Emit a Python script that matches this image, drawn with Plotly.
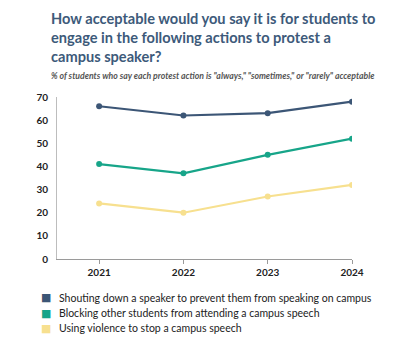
import plotly.graph_objects as go

years = [2021, 2022, 2023, 2024]
series_names = [
    "Shouting down a speaker to prevent them from speaking on campus",
    "Blocking other students from attending a campus speech",
    "Using violence to stop a campus speech",
]
shouting = [66, 62, 63, 68]
blocking = [41, 37, 45, 52]
violence = [24, 20, 27, 32]
colors = ["#3c5676", "#17a589", "#f7e08f"]
y_ticks = [0, 10, 20, 30, 40, 50, 60, 70]

# page body adds an 8px offset; positions below are target pixel positions minus 8
OFF = 8
W, H = 417, 360
ML, MT = 57 - OFF, 97 - OFF
PR, PB = 352 - OFF, 259 - OFF
MR, MB = W - PR, H - PB
PW, PH = PR - ML, PB - MT


def px_x(x):
    return (x - OFF - ML) / PW


def px_y(y):
    return (PB - (y - OFF)) / PH


fig = go.Figure()
for name, vals, col in zip(series_names, [shouting, blocking, violence], colors):
    fig.add_trace(go.Scatter(x=years, y=vals, mode="lines+markers", name=name,
                             line=dict(color=col, width=2.2),
                             marker=dict(color=col, size=6),
                             showlegend=False))

annotations = [
    dict(text="<b>How acceptable would you say it is for students to<br>engage in the following actions to protest a<br>campus speaker?</b>",
         xref="paper", yref="paper", x=px_x(49), y=px_y(8), xanchor="left", yanchor="top",
         align="left", showarrow=False,
         font=dict(size=14.6, family="Lato", color="#3d5a7a")),
    dict(text="<b><i>% of students who say each protest action is \"always,\" \"sometimes,\" or \"rarely\" acceptable</i></b>",
         xref="paper", yref="paper", x=px_x(49), y=px_y(75), xanchor="left", yanchor="middle",
         align="left", showarrow=False,
         font=dict(size=8.7, family="Lato", color="#555")),
]
legend_rows = [297.5, 313, 328]
for name, col, py in zip(series_names, colors, legend_rows):
    annotations.append(dict(text="■", xref="paper", yref="paper", x=px_x(45.5), y=px_y(py),
                            xanchor="center", yanchor="middle", showarrow=False,
                            font=dict(size=11, family="DejaVu Sans", color=col)))
    annotations.append(dict(text=name, xref="paper", yref="paper", x=px_x(57), y=px_y(py),
                            xanchor="left", yanchor="middle", showarrow=False,
                            font=dict(size=10.5, family="Lato", color="#222")))

fig.update_layout(
    width=W, height=H,
    margin=dict(l=ML, r=MR, t=MT, b=MB, autoexpand=False),
    paper_bgcolor="white", plot_bgcolor="white",
    font=dict(family="Lato", color="#222"),
    showlegend=False,
    xaxis=dict(range=[2020.5, 2024], tickvals=years, ticktext=[str(y) for y in years],
               showgrid=False, zeroline=False, showline=True, linecolor="#9a9a9a", linewidth=1,
               ticks="outside", ticklen=4, tickcolor="#9a9a9a",
               tickfont=dict(size=10, family="Lato", color="#222", weight="bold")),
    yaxis=dict(range=[0, 70], tickvals=y_ticks, showgrid=False, zeroline=False,
               showline=True, linecolor="#bdbdbd", linewidth=1, ticks="", ticklabelstandoff=6,
               tickfont=dict(size=10, family="Lato", color="#222", weight="bold")),
    annotations=annotations,
)
fig.write_html("out.html")
